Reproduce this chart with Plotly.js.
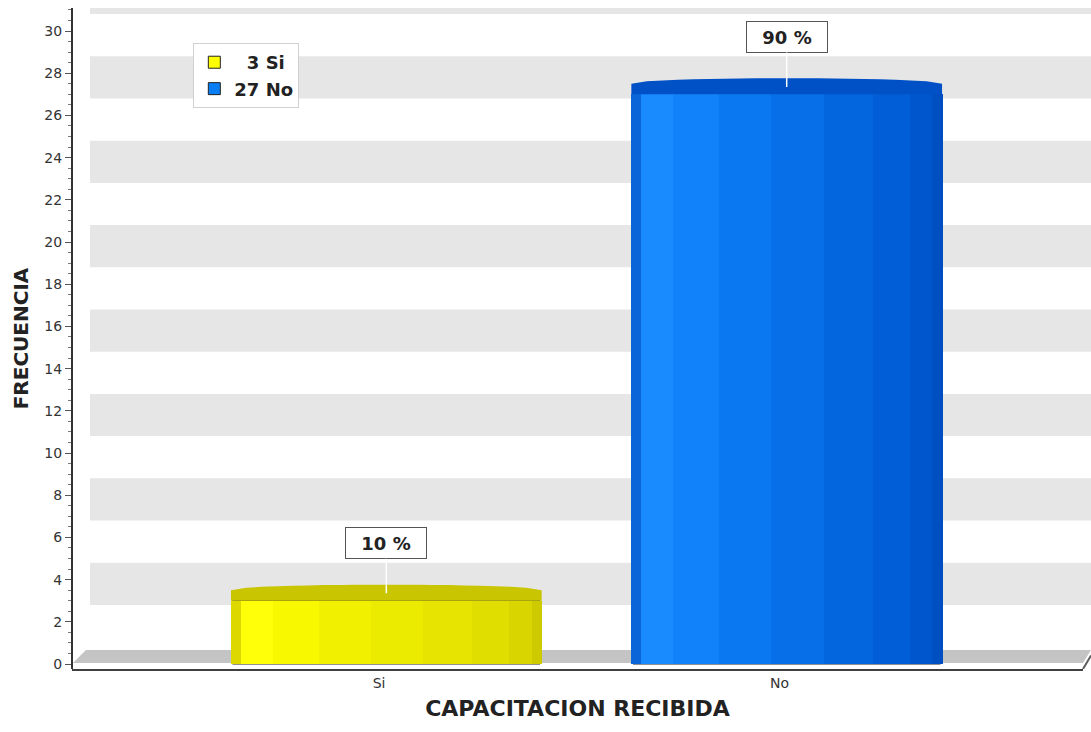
<!DOCTYPE html>
<html>
<head>
<meta charset="utf-8">
<script src="https://cdn.plot.ly/plotly-3.0.1.min.js"></script>
<style>html,body{margin:0;padding:0;background:#fff;}#chart{width:1091px;height:732px;}</style>
</head>
<body>
<div id="chart"></div>
<script>
// ---- data ----
const categories = ["Si", "No"];
const frequencies = [3, 27];
const yTickStep = 2;
const xAxisTitle = "CAPACITACION RECIBIDA";
const yAxisTitle = "FRECUENCIA";

// ---- style ----
const WIDE = "DejaVu Sans, Verdana, sans-serif";
const mainColors = ["#ffff00", "#0a7ef5"];
const capColors = ["#c9c500", "#0050c6"];
const stripEdges = [0, 0.026, 0.13, 0.28, 0.45, 0.62, 0.78, 0.9, 0.974, 1];
const stripColors = [
  ["#dcd800", "#ffff0a", "#f8f800", "#f0f000", "#ebeb00", "#e6e400", "#e0dd00", "#d8d500", "#cdca00"],
  ["#0a66d8", "#1a8aff", "#1282fb", "#0a78f0", "#076fe8", "#0466de", "#025ed6", "#0056cc", "#004fc0"]
];
const BW = 0.768, OFF = -0.366;
const XR = [-0.767, 1.758], YR = [-0.237, 31.09];

const total = frequencies.reduce((a, b) => a + b, 0);
const traces = [];
categories.forEach((c, i) => {
  const label = (String(frequencies[i]).length < 2 ? "\u2007" : "") + frequencies[i] + " " + c;
  traces.push({
    type: "bar", x: [c], y: [frequencies[i]], name: label,
    width: [BW], offset: [OFF],
    marker: {color: mainColors[i], line: {color: "#222", width: 1}},
    hoverinfo: "x+y"
  });
});
categories.forEach((c, i) => {
  for (let k = 0; k < stripEdges.length - 1; k++) {
    const ext0 = k === 0 ? -0.004 : 0;
    const ext1 = k === stripEdges.length - 2 ? 0.004 : 0;
    traces.push({
      type: "bar", x: [c], y: [frequencies[i]], showlegend: false, hoverinfo: "skip",
      offset: [OFF + BW * stripEdges[k] + ext0],
      width: [BW * (stripEdges[k + 1] - stripEdges[k]) + 0.002 - ext0 + ext1],
      marker: {color: stripColors[i][k], line: {width: 0}}
    });
  }
});

// shapes: back wall bands, floor, axis line, cylinder caps
const shapes = [];
for (let b = yTickStep * 1.4; b < YR[1]; b += yTickStep * 2) {
  shapes.push({type: "rect", xref: "paper", yref: "y", x0: 0.0178, x1: 1.01, y0: b, y1: b + yTickStep,
    fillcolor: "#e6e6e6", line: {width: 0}, layer: "below"});
}
shapes.push({type: "path", xref: "paper", yref: "y", layer: "below",
  path: "M 0.001 0.05 L 0.0138 0.66 L 1.0079 0.66 L 1.0 0.05 Z",
  fillcolor: "#c4c4c4", line: {width: 0}});
shapes.push({type: "line", xref: "paper", yref: "y", x0: 1.0, y0: YR[0], x1: 1.0079, y1: 0.4,
  line: {color: "#606060", width: 2}});
shapes.push({type: "line", xref: "paper", yref: "y", x0: 0, y0: YR[0], x1: 0, y1: YR[1],
  line: {color: "#333", width: 2}});
categories.forEach((c, i) => {
  const v = frequencies[i];
  const x0 = i + OFF - 0.004, x1 = i + OFF + BW + 0.004;
  const cx = (x0 + x1) / 2, rx = (x1 - x0) / 2;
  let p = `M ${x0} ${v} L ${x0} ${v + 0.5}`;
  for (let t = -1; t <= 1.0001; t += 0.1) {
    p += ` L ${cx + rx * t} ${v + 0.5 + 0.26 * Math.sqrt(Math.max(0, 1 - t * t))}`;
  }
  p += ` L ${x1} ${v} Z`;
  shapes.push({type: "path", xref: "x", yref: "y", path: p, fillcolor: capColors[i], line: {width: 0}, layer: "above"});
});

const annotations = categories.map((c, i) => ({
  x: i + OFF + BW / 2, y: frequencies[i] + 0.35, xref: "x", yref: "y",
  text: "<b>" + Math.round(frequencies[i] / total * 100) + " %</b>",
  showarrow: true, arrowhead: 0, arrowwidth: 1.5, arrowcolor: "#ffffff", ax: 0, ay: -50,
  font: {family: WIDE, size: 18, color: "#222"},
  bgcolor: "#ffffff", bordercolor: "#555", borderwidth: 1, borderpad: 3, width: 74, height: 24
}));

const xTicks = [];
for (let t = -0.75; t <= 1.76; t += 0.25) xTicks.push(t);

const layout = {
  width: 1091, height: 732,
  margin: {l: 72, r: 8, t: 8, b: 63},
  paper_bgcolor: "#ffffff", plot_bgcolor: "rgba(0,0,0,0)",
  barmode: "overlay", bargap: 0,
  showlegend: true,
  legend: {x: 0.12, y: 0.947, xanchor: "left", yanchor: "top", bgcolor: "#ffffff",
    bordercolor: "#d0d0d0", borderwidth: 1, font: {family: WIDE, size: 18, color: "#222", weight: "bold"},
    tracegroupgap: 0, itemwidth: 30},
  xaxis: {type: "category", range: XR, showline: true, linecolor: "#404040", linewidth: 2,
    ticks: "", showgrid: false, zeroline: false, fixedrange: true,
    tickfont: {family: WIDE, size: 14, color: "#333"},
    title: {text: xAxisTitle, font: {family: WIDE, size: 22, color: "#222", weight: "bold"}, standoff: 11}},
  xaxis2: {overlaying: "x", anchor: "y", side: "bottom", type: "linear", range: XR,
    tickmode: "array", tickvals: xTicks, showticklabels: false, ticks: "outside", ticklen: 5,
    tickcolor: "#666", showgrid: false, zeroline: false, showline: false, fixedrange: true},
  yaxis: {range: YR, tickmode: "linear", tick0: 0, dtick: yTickStep, showgrid: false, zeroline: false,
    showline: false, ticks: "outside", ticklen: 6, tickcolor: "#555",
    tickfont: {family: WIDE, size: 14, color: "#333"}, fixedrange: true,
    minor: {dtick: 0.5, ticks: "outside", ticklen: 3, tickcolor: "#777", showgrid: false},
    title: {text: yAxisTitle, font: {family: WIDE, size: 20, color: "#222", weight: "bold"}, standoff: 10}},
  shapes: shapes,
  annotations: annotations
};

Plotly.newPlot("chart", traces, layout, {displayModeBar: false, staticPlot: true});
</script>
</body>
</html>
